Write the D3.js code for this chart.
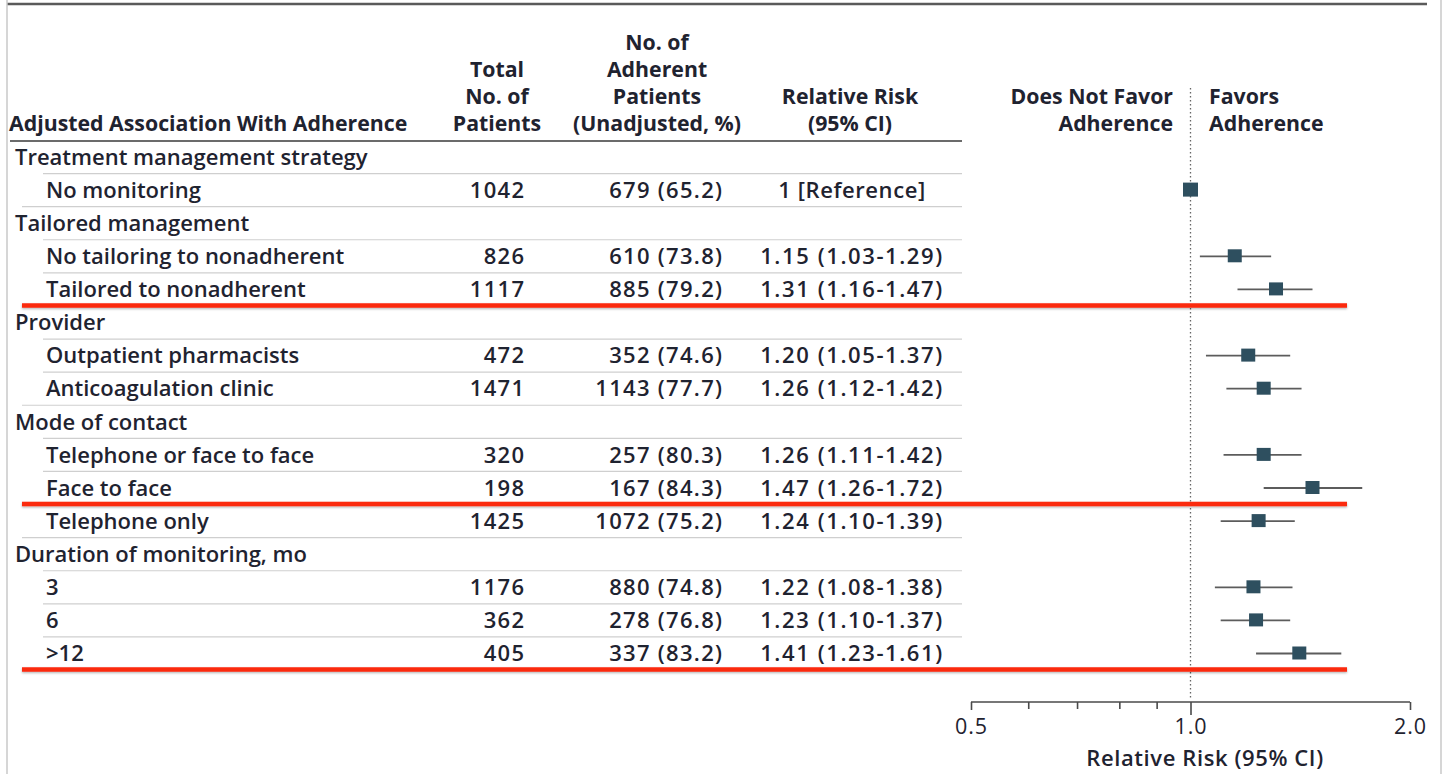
<!DOCTYPE html>
<html>
<head>
<meta charset="utf-8">
<script src="https://cdn.jsdelivr.net/npm/d3@7"></script>
<style>
  html, body { margin: 0; padding: 0; background: #fff; }
  svg { display: block; }
  text { font-family: "Open Sans", "Noto Sans", sans-serif; fill: #1f2330; }
</style>
</head>
<body>
<svg id="chart" width="1443" height="774"></svg>
<script>
// Forest plot: adjusted association of monitoring strategies with adherence
const rowLabels = [
  "Treatment management strategy", "No monitoring",
  "Tailored management", "No tailoring to nonadherent", "Tailored to nonadherent",
  "Provider", "Outpatient pharmacists", "Anticoagulation clinic",
  "Mode of contact", "Telephone or face to face", "Face to face", "Telephone only",
  "Duration of monitoring, mo", "3", "6", ">12"
];
const rowIsGroup = [true, false, true, false, false, true, false, false,
                    true, false, false, false, true, false, false, false];
const totalPatients = [null, 1042, null, 826, 1117, null, 472, 1471,
                       null, 320, 198, 1425, null, 1176, 362, 405];
const adherentCount = [null, 679, null, 610, 885, null, 352, 1143,
                       null, 257, 167, 1072, null, 880, 278, 337];
const adherentPct = [null, 65.2, null, 73.8, 79.2, null, 74.6, 77.7,
                     null, 80.3, 84.3, 75.2, null, 74.8, 76.8, 83.2];
const rrEstimate = [null, 1, null, 1.15, 1.31, null, 1.20, 1.26,
                    null, 1.26, 1.47, 1.24, null, 1.22, 1.23, 1.41];
const rrLower = [null, null, null, 1.03, 1.16, null, 1.05, 1.12,
                 null, 1.11, 1.26, 1.10, null, 1.08, 1.10, 1.23];
const rrUpper = [null, null, null, 1.29, 1.47, null, 1.37, 1.42,
                 null, 1.42, 1.72, 1.39, null, 1.38, 1.37, 1.61];
// rows whose lower edge is highlighted in red
const highlightAfter = [4, 10, 15];
const axisTicks = [0.5, 1.0, 2.0];
const axisMinorTicks = [0.6, 0.7, 0.8, 0.9];

const svg = d3.select("#chart");
const idx = d3.range(rowLabels.length);

const y = d3.scalePoint().domain(idx).range([157, 653.5]);
const rowH = y.step();
const x = d3.scaleLog().domain([0.5, 2]).range([971, 1410]);

// outer frame
svg.append("line").attr("x1", 7).attr("x2", 1427).attr("y1", 4).attr("y2", 4)
  .attr("stroke", "#5a5a5a").attr("stroke-width", 2.5);
svg.append("line").attr("x1", 7).attr("x2", 7).attr("y1", 0).attr("y2", 774)
  .attr("stroke", "#c8c8c8").attr("stroke-width", 1.5);
svg.append("line").attr("x1", 1441).attr("x2", 1441).attr("y1", 0).attr("y2", 774)
  .attr("stroke", "#c8c8c8").attr("stroke-width", 1.5);

// column headers
const hdr = svg.append("g").attr("font-weight", 700).attr("font-size", 21.3);
const headerRows = [43, 70, 97, 124];
hdr.append("text").attr("x", 9).attr("y", headerRows[3]).attr("dy", "0.35em")
  .text("Adjusted Association With Adherence");
[["Total", 1], ["No. of", 2], ["Patients", 3]].forEach(([t, r]) =>
  hdr.append("text").attr("x", 497).attr("y", headerRows[r]).attr("dy", "0.35em")
    .attr("text-anchor", "middle").text(t));
[["No. of", 0], ["Adherent", 1], ["Patients", 2], ["(Unadjusted, %)", 3]].forEach(([t, r]) =>
  hdr.append("text").attr("x", 657).attr("y", headerRows[r]).attr("dy", "0.35em")
    .attr("text-anchor", "middle").text(t));
[["Relative Risk", 2], ["(95% CI)", 3]].forEach(([t, r]) =>
  hdr.append("text").attr("x", 850).attr("y", headerRows[r]).attr("dy", "0.35em")
    .attr("text-anchor", "middle").text(t));
[["Does Not Favor", 2], ["Adherence", 3]].forEach(([t, r]) =>
  hdr.append("text").attr("x", 1173).attr("y", headerRows[r]).attr("dy", "0.35em")
    .attr("text-anchor", "end").text(t));
[["Favors", 2], ["Adherence", 3]].forEach(([t, r]) =>
  hdr.append("text").attr("x", 1209).attr("y", headerRows[r]).attr("dy", "0.35em")
    .attr("text-anchor", "start").text(t));

// header rule
svg.append("line").attr("x1", 10).attr("x2", 962).attr("y1", 141).attr("y2", 141)
  .attr("stroke", "#3a3a3a").attr("stroke-width", 1.6);

// row separators
const sep = svg.append("g").attr("stroke", "#cfcfcf").attr("stroke-width", 1.2);
idx.slice(0, -1).forEach(i => {
  const nextIsGroup = rowIsGroup[i + 1];
  const x1 = (!rowIsGroup[i] && nextIsGroup) ? 22 : 43;
  sep.append("line").attr("x1", x1).attr("x2", 962)
    .attr("y1", y(i) + rowH / 2).attr("y2", y(i) + rowH / 2);
});

// reference line at RR = 1
svg.append("line").attr("x1", x(1)).attr("x2", x(1)).attr("y1", 88).attr("y2", 700)
  .attr("stroke", "#666").attr("stroke-width", 1.3).attr("stroke-dasharray", "1.5,2.5");

// table text
const body = svg.append("g").attr("font-size", 22).attr("font-weight", 600);
const numSpacing = 1.3;
idx.forEach(i => {
  const yy = y(i);
  body.append("text").attr("x", rowIsGroup[i] ? 15 : 46).attr("y", yy).attr("dy", "0.35em")
    .text(rowLabels[i]);
  if (totalPatients[i] != null) {
    body.append("text").attr("x", 524 + numSpacing).attr("y", yy).attr("dy", "0.35em")
      .attr("text-anchor", "end").attr("letter-spacing", numSpacing)
      .text(totalPatients[i]);
    body.append("text").attr("x", 722 + numSpacing).attr("y", yy).attr("dy", "0.35em")
      .attr("text-anchor", "end").attr("letter-spacing", numSpacing)
      .text(`${adherentCount[i]} (${adherentPct[i].toFixed(1)})`);
    const rrText = rrLower[i] == null
      ? "1 [Reference]"
      : `${rrEstimate[i].toFixed(2)} (${rrLower[i].toFixed(2)}-${rrUpper[i].toFixed(2)})`;
    body.append("text").attr("x", 852).attr("y", yy).attr("dy", "0.35em")
      .attr("text-anchor", "middle")
      .attr("letter-spacing", rrLower[i] == null ? 0.6 : 1.6).text(rrText);
  }
});

// confidence intervals and point estimates
const plot = svg.append("g");
idx.filter(i => rrLower[i] != null).forEach(i => {
  plot.append("line").attr("x1", x(rrLower[i])).attr("x2", x(rrUpper[i]))
    .attr("y1", y(i)).attr("y2", y(i))
    .attr("stroke", "#5c5c5c").attr("stroke-width", 1.8);
});
const box = 14;
idx.filter(i => rrEstimate[i] != null).forEach(i => {
  const s = rrLower[i] == null ? box + 1 : box;
  plot.append("rect").attr("x", x(rrEstimate[i]) - s / 2).attr("y", y(i) - s / 2)
    .attr("width", s).attr("height", s - 1).attr("fill", "#2e4f5f");
});

// x axis
const axisY = 702;
const axis = d3.axisBottom(x).tickValues(axisTicks).tickSize(8)
  .tickFormat(d3.format(".1f"));
const ax = svg.append("g").attr("transform", `translate(0,${axisY})`).call(axis);
ax.select(".domain").attr("stroke", "#4a4a4a").attr("stroke-width", 1.6)
  .attr("d", `M${x(0.5)},0H${x(2)}`);
ax.selectAll(".tick line").attr("stroke", "#4a4a4a").attr("stroke-width", 1.6)
  .attr("y2", d => d === 1 ? 13 : 8);
ax.selectAll(".tick text").attr("font-size", 21.5).attr("font-weight", 400)
  .attr("letter-spacing", 1).attr("font-family", "\"Open Sans\", sans-serif")
  .attr("fill", "#1f2330").attr("y", 17).attr("dy", "0.71em");
ax.selectAll(".minor").data(axisMinorTicks).enter().append("line")
  .attr("class", "minor").attr("x1", d => x(d)).attr("x2", d => x(d))
  .attr("y1", 0).attr("y2", 7).attr("stroke", "#4a4a4a").attr("stroke-width", 1.6);
svg.append("text").attr("x", 1205).attr("y", 758).attr("dy", "0.35em")
  .attr("text-anchor", "middle").attr("font-size", 22).attr("font-weight", 600)
  .attr("letter-spacing", 0.6).text("Relative Risk (95% CI)");

// red emphasis rules
const shadow = svg.append("defs").append("filter").attr("id", "soft")
  .attr("filterUnits", "userSpaceOnUse")
  .attr("x", 0).attr("y", 0).attr("width", 1443).attr("height", 774);
shadow.append("feDropShadow").attr("dx", 0).attr("dy", 1.2).attr("stdDeviation", 1)
  .attr("flood-color", "#000").attr("flood-opacity", 0.3);
highlightAfter.forEach(i => {
  svg.append("line").attr("x1", 22).attr("x2", 1347)
    .attr("y1", y(i) + rowH / 2 - 0.5).attr("y2", y(i) + rowH / 2 - 0.5)
    .attr("stroke", "#fb2a10").attr("stroke-width", 4.5).attr("filter", "url(#soft)");
});
</script>
</body>
</html>
